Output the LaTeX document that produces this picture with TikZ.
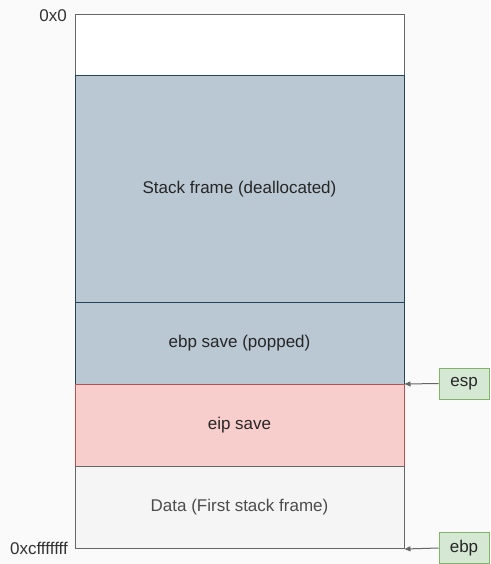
\documentclass[tikz,border=0pt]{standalone}
\usepackage{fontspec}
\setmainfont{Liberation Sans}
\usetikzlibrary{arrows.meta}
\definecolor{bgc}{HTML}{FAFAFA}
\definecolor{blueF}{HTML}{BAC8D3}
\definecolor{blueD}{HTML}{23445D}
\definecolor{redF}{HTML}{F8CECC}
\definecolor{redD}{HTML}{B85450}
\definecolor{grayF}{HTML}{F5F5F5}
\definecolor{grayD}{HTML}{666666}
\definecolor{greenF}{HTML}{D5E8D4}
\definecolor{greenD}{HTML}{82B366}
\tikzset{
  seg/.style={draw, line width=1pt, minimum width=329pt, inner sep=0pt, anchor=north west, font=\fontsize{17}{20}\selectfont, text=black!85},
  reg/.style={draw=greenD, fill=greenF, line width=1pt, minimum width=50pt, minimum height=31pt, inner sep=0pt, font=\fontsize{17}{20}\selectfont, text=black!85},
  addr/.style={anchor=east, inner sep=0pt, font=\fontsize{17}{20}\selectfont, text=black!80},
  ptr/.style={draw=grayD, line width=1pt, -{Triangle[length=6pt,width=5pt]}}
}
\begin{document}
\begin{tikzpicture}[x=1pt,y=-1pt]
\fill[bgc] (0,0) rectangle (490,564);
\useasboundingbox (0,0) rectangle (490,564);
\node[seg, draw=grayD, fill=white, minimum height=61pt] (free) at (74.5,14) {};
\node[seg, draw=blueD, fill=blueF, minimum height=227pt] (frame) at (74.5,75) {Stack frame (deallocated)};
\node[seg, draw=blueD, fill=blueF, minimum height=82pt] (ebpsave) at (74.5,302) {ebp save (popped)};
\node[seg, draw=redD, fill=redF, minimum height=82pt] (eip) at (74.5,384) {eip save};
\node[seg, draw=grayD, fill=grayF, minimum height=82pt, text=black!70] (data) at (74.5,466) {Data (First stack frame)};
\node[addr] (a0) at (67,16) {0x0};
\node[addr] (a1) at (68,548) {0xcfffffff};
\node[reg] (esp) at (464,383.5) {esp};
\node[reg] (ebp) at (464,548) {ebp};
\draw[ptr] (esp.west) -- (eip.north east);
\draw[ptr] (ebp.west) -- (data.south east);
\end{tikzpicture}
\end{document}
